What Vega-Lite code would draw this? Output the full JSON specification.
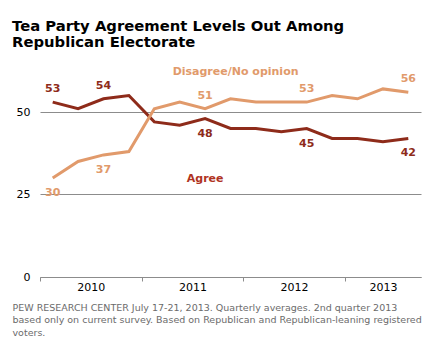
{
  "$schema": "https://vega.github.io/schema/vega-lite/v6.json",
  "width": 381,
  "height": 198,
  "autosize": {"type": "none"},
  "padding": {"left": 40, "top": 79, "right": 12, "bottom": 78},
  "background": "white",
  "config": {"view": {"stroke": null}, "font": "DejaVu Sans"},
  "title": {
    "text": ["Tea Party Agreement Levels Out Among", "Republican Electorate"],
    "anchor": "start",
    "frame": "group",
    "dx": -28,
    "offset": 17,
    "font": "DejaVu Sans",
    "fontSize": 14.8,
    "fontWeight": "bold",
    "color": "#000000",
    "lineHeight": 16
  },
  "datasets": {
    "series": [
      {"q": 0, "series": "Agree", "value": 53},
      {"q": 1, "series": "Agree", "value": 51},
      {"q": 2, "series": "Agree", "value": 54},
      {"q": 3, "series": "Agree", "value": 55},
      {"q": 4, "series": "Agree", "value": 47},
      {"q": 5, "series": "Agree", "value": 46},
      {"q": 6, "series": "Agree", "value": 48},
      {"q": 7, "series": "Agree", "value": 45},
      {"q": 8, "series": "Agree", "value": 45},
      {"q": 9, "series": "Agree", "value": 44},
      {"q": 10, "series": "Agree", "value": 45},
      {"q": 11, "series": "Agree", "value": 42},
      {"q": 12, "series": "Agree", "value": 42},
      {"q": 13, "series": "Agree", "value": 41},
      {"q": 14, "series": "Agree", "value": 42},
      {"q": 0, "series": "Disagree/No opinion", "value": 30},
      {"q": 1, "series": "Disagree/No opinion", "value": 35},
      {"q": 2, "series": "Disagree/No opinion", "value": 37},
      {"q": 3, "series": "Disagree/No opinion", "value": 38},
      {"q": 4, "series": "Disagree/No opinion", "value": 51},
      {"q": 5, "series": "Disagree/No opinion", "value": 53},
      {"q": 6, "series": "Disagree/No opinion", "value": 51},
      {"q": 7, "series": "Disagree/No opinion", "value": 54},
      {"q": 8, "series": "Disagree/No opinion", "value": 53},
      {"q": 9, "series": "Disagree/No opinion", "value": 53},
      {"q": 10, "series": "Disagree/No opinion", "value": 53},
      {"q": 11, "series": "Disagree/No opinion", "value": 55},
      {"q": 12, "series": "Disagree/No opinion", "value": 54},
      {"q": 13, "series": "Disagree/No opinion", "value": 57},
      {"q": 14, "series": "Disagree/No opinion", "value": 56}
    ],
    "names": [
      {"q": 6, "value": 29.7, "name": "Agree"},
      {"q": 7.2, "value": 62, "name": "Disagree/No opinion"}
    ]
  },
  "layer": [
    {
      "data": {"name": "series"},
      "mark": {"type": "line", "strokeWidth": 3, "strokeJoin": "miter"},
      "encoding": {
        "x": {
          "field": "q",
          "type": "quantitative",
          "scale": {"domain": [-0.5, 14.5], "nice": false, "zero": false},
          "axis": {
            "values": [-0.5, 1.5, 3.5, 5.5, 7.5, 9.5, 11.5, 13],
            "labelExpr": "datum.value == 1.5 ? '2010' : datum.value == 5.5 ? '2011' : datum.value == 9.5 ? '2012' : datum.value == 13 ? '2013' : ''",
            "tickOpacity": {"condition": {"test": "datum.value == 1.5 || datum.value == 5.5 || datum.value == 9.5 || datum.value == 13", "value": 0}, "value": 1},
            "labelOverlap": false,
            "labelFlush": false,
            "labelBound": false,
            "grid": false,
            "domainColor": "#8c8c8c",
            "tickColor": "#8c8c8c",
            "tickSize": 4,
            "labelPadding": 0,
            "labelFont": "DejaVu Sans",
            "labelFontSize": 11,
            "labelColor": "#000000",
            "title": ["PEW RESEARCH  CENTER July 17-21, 2013.  Quarterly averages. 2nd quarter 2013", "based only on current survey.  Based on Republican and Republican-leaning registered", "voters."],
            "titleAnchor": "start",
            "titleAlign": "left",
            "titleBaseline": "top",
            "titleX": -28,
            "titleY": 25,
            "titleFont": "DejaVu Sans",
            "titleFontSize": 9.5,
            "titleFontWeight": "normal",
            "titleColor": "#6b6b6b",
            "titleLineHeight": 12.5
          }
        },
        "y": {
          "field": "value",
          "type": "quantitative",
          "scale": {"domain": [0, 60], "nice": false},
          "axis": {
            "values": [0, 25, 50],
            "grid": true,
            "gridColor": "#8c8c8c",
            "gridWidth": 1,
            "domain": false,
            "ticks": false,
            "labelPadding": 10,
            "labelFont": "DejaVu Sans",
            "labelFontSize": 11,
            "labelColor": "#000000",
            "title": null
          }
        },
        "color": {
          "field": "series",
          "type": "nominal",
          "scale": {"domain": ["Agree", "Disagree/No opinion"], "range": ["#8e2b1a", "#e19a6b"]},
          "legend": null
        }
      }
    },
    {
      "data": {"name": "series"},
      "transform": [
        {"filter": "indexof([0, 2, 6, 10, 14], datum.q) >= 0"},
        {"filter": "(datum.series == 'Agree' && datum.q < 5) || (datum.series != 'Agree' && datum.q > 5)"}
      ],
      "mark": {"type": "text", "fontWeight": "bold", "fontSize": 11, "font": "DejaVu Sans", "dy": -13, "baseline": "middle"},
      "encoding": {
        "x": {"field": "q", "type": "quantitative"},
        "y": {"field": "value", "type": "quantitative"},
        "text": {"field": "value", "type": "quantitative"},
        "color": {
          "field": "series",
          "type": "nominal",
          "scale": {"domain": ["Agree", "Disagree/No opinion"], "range": ["#8e2b1a", "#e19a6b"]},
          "legend": null
        }
      }
    },
    {
      "data": {"name": "series"},
      "transform": [
        {"filter": "indexof([0, 2, 6, 10, 14], datum.q) >= 0"},
        {"filter": "(datum.series == 'Agree' && datum.q > 5) || (datum.series != 'Agree' && datum.q < 5)"}
      ],
      "mark": {"type": "text", "fontWeight": "bold", "fontSize": 11, "font": "DejaVu Sans", "dy": 15, "baseline": "middle"},
      "encoding": {
        "x": {"field": "q", "type": "quantitative"},
        "y": {"field": "value", "type": "quantitative"},
        "text": {"field": "value", "type": "quantitative"},
        "color": {
          "field": "series",
          "type": "nominal",
          "scale": {"domain": ["Agree", "Disagree/No opinion"], "range": ["#8e2b1a", "#e19a6b"]},
          "legend": null
        }
      }
    },
    {
      "data": {"name": "names"},
      "mark": {"type": "text", "fontWeight": "bold", "fontSize": 11, "font": "DejaVu Sans", "baseline": "middle"},
      "encoding": {
        "x": {"field": "q", "type": "quantitative"},
        "y": {"field": "value", "type": "quantitative"},
        "text": {"field": "name"},
        "color": {
          "field": "name",
          "type": "nominal",
          "scale": {"domain": ["Agree", "Disagree/No opinion"], "range": ["#b0341f", "#e19a6b"]},
          "legend": null
        }
      }
    }
  ],
  "resolve": {"scale": {"color": "independent"}}
}
